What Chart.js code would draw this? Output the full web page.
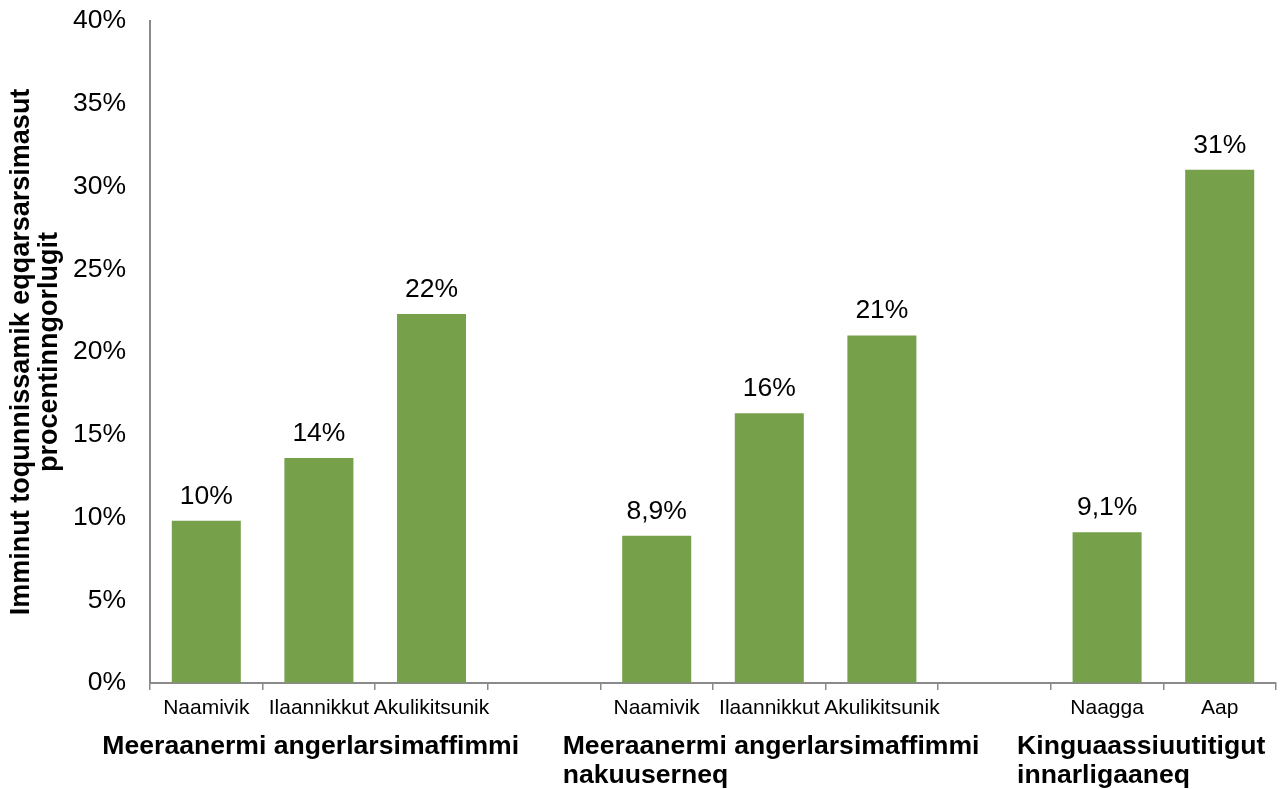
<!DOCTYPE html>
<html>
<head>
<meta charset="utf-8">
<script src="https://cdn.jsdelivr.net/npm/chart.js@4.4.1/dist/chart.umd.min.js"></script>
<style>
  html, body { margin: 0; padding: 0; background: #ffffff; }
  #wrap { width: 1280px; height: 789px; position: relative; }
</style>
</head>
<body>
<div id="wrap"><canvas id="c" width="1280" height="789"></canvas></div>
<script>
// ---- data ----
const categories = ['Naamivik', 'Ilaannikkut', 'Akulikitsunik', '', 'Naamivik', 'Ilaannikkut', 'Akulikitsunik', '', 'Naagga', 'Aap'];
const values = [9.8, 13.6, 22.3, null, 8.9, 16.3, 21.0, null, 9.1, 31.0];
const valueLabels = ['10%', '14%', '22%', '', '8,9%', '16%', '21%', '', '9,1%', '31%'];
const groupLabels = [
  ['Meeraanermi angerlarsimaffimmi'],
  ['Meeraanermi angerlarsimaffimmi', 'nakuuserneq'],
  ['Kinguaassiuutitigut', 'innarligaaneq']
];
const groupFirstIndex = [0, 4, 8];
const yTitle = ['Imminut toqunnissamik eqqarsarsimasut', 'procentinngorlugit'];
const yTicks = [0, 5, 10, 15, 20, 25, 30, 35, 40];

const FONT = '"Liberation Sans", Arial, sans-serif';
const BAR = '#77A04A';
const AXIS = '#8a8a8a';

const labelPlugin = {
  id: 'labelPlugin',
  afterDatasetsDraw(chart) {
    const ctx = chart.ctx;
    const meta = chart.getDatasetMeta(0);
    ctx.save();
    ctx.fillStyle = '#000';
    ctx.font = '26.5px ' + FONT;
    ctx.textAlign = 'center';
    ctx.textBaseline = 'alphabetic';
    meta.data.forEach((bar, i) => {
      if (values[i] == null) return;
      ctx.fillText(valueLabels[i], bar.x, bar.y - 17);
    });
    ctx.restore();
  },
  afterDraw(chart) {
    const ctx = chart.ctx;
    const xs = chart.scales.x;
    const offsets = [-104, -94, -90];
    ctx.save();
    ctx.fillStyle = '#000';
    ctx.font = 'bold 26.6px ' + FONT;
    ctx.textAlign = 'left';
    ctx.textBaseline = 'alphabetic';
    groupLabels.forEach((lines, g) => {
      const x0 = xs.getPixelForValue(groupFirstIndex[g]) + offsets[g];
      lines.forEach((ln, k) => {
        ctx.fillText(ln, x0, xs.bottom - 35 + k * 29);
      });
    });
    ctx.restore();
  }
};

new Chart(document.getElementById('c'), {
  type: 'bar',
  data: {
    labels: categories,
    datasets: [{
      data: values,
      backgroundColor: BAR,
      borderWidth: 0,
      barPercentage: 0.613,
      categoryPercentage: 1.0
    }]
  },
  options: {
    responsive: false,
    animation: false,
    events: [],
    layout: { padding: { top: 0, right: 4, left: 0, bottom: 0 } },
    plugins: { legend: { display: false }, tooltip: { enabled: false } },
    scales: {
      x: {
        offset: true,
        grid: {
          offset: true,
          drawOnChartArea: false,
          drawTicks: true,
          tickLength: 7,
          color: AXIS,
          lineWidth: 1.5
        },
        border: { display: true, color: AXIS, width: 2 },
        ticks: {
          color: '#000',
          font: { family: FONT, size: 21 },
          padding: 6,
          maxRotation: 0,
          autoSkip: false
        },
        afterFit(scale) { scale.height = 106; }
      },
      y: {
        min: 0,
        max: 40,
        afterBuildTicks(scale) { scale.ticks = yTicks.map(v => ({ value: v })); },
        grid: {
          display: true,
          drawOnChartArea: false,
          drawTicks: true,
          tickLength: 19,
          color: 'rgba(0,0,0,0)'
        },
        border: { display: true, color: AXIS, width: 2 },
        ticks: {
          color: '#000',
          font: { family: FONT, size: 26.5 },
          padding: 5,
          callback: v => v + '%'
        },
        title: {
          display: true,
          text: yTitle,
          color: '#000',
          font: { family: FONT, size: 27, weight: 'bold', lineHeight: 28 / 27 },
          padding: { top: 8, bottom: 0 }
        },
        afterFit(scale) { scale.width = 150; }
      }
    }
  },
  plugins: [labelPlugin]
});
</script>
</body>
</html>
